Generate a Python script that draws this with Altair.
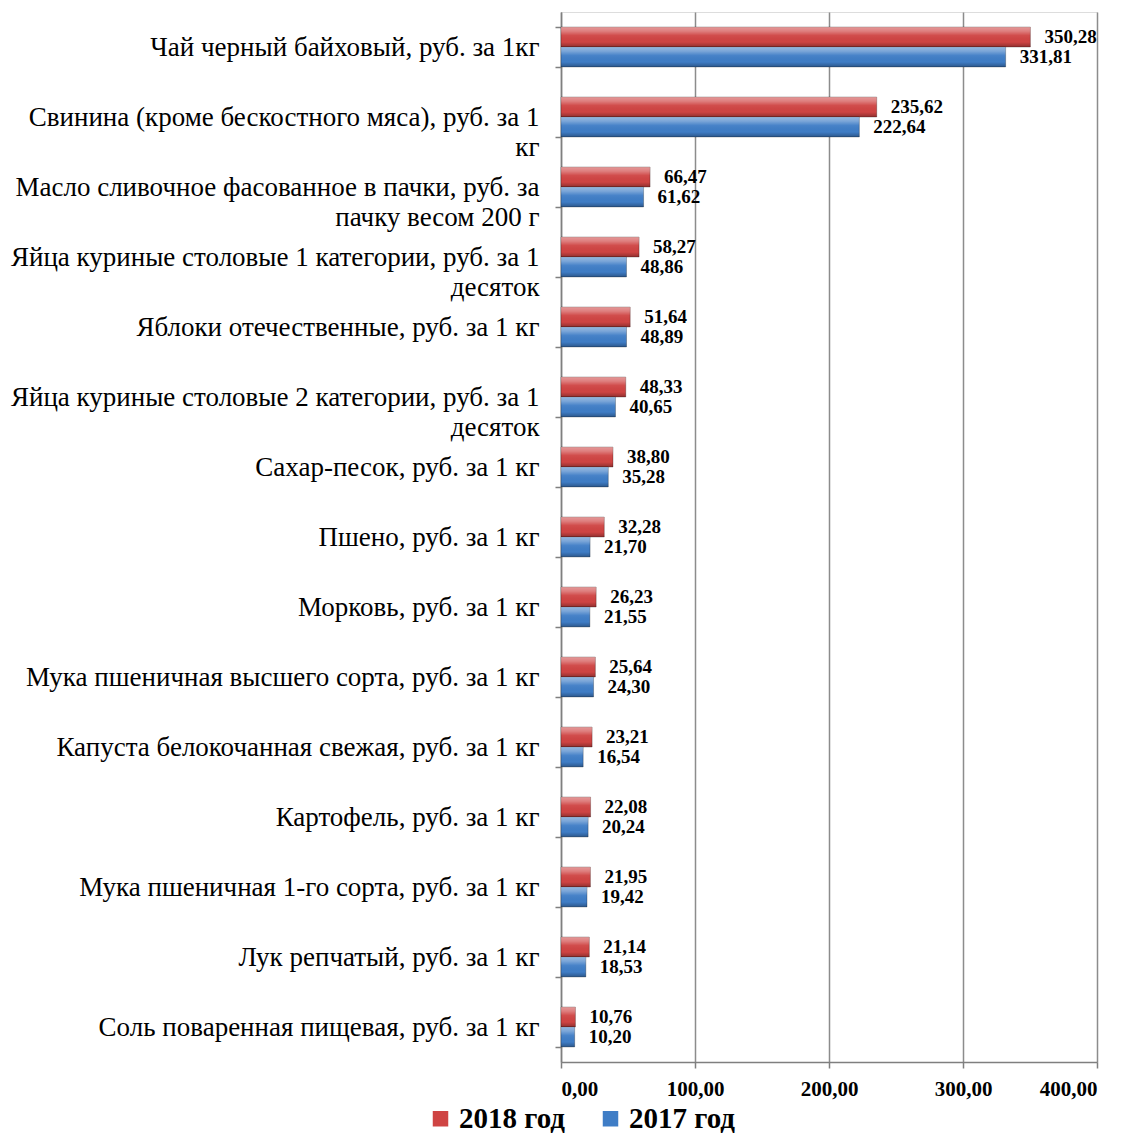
import altair as alt
import pandas as pd

categories = [
    "Чай черный байховый, руб. за 1кг",
    "Свинина (кроме бескостного мяса), руб. за 1\nкг",
    "Масло сливочное фасованное в пачки, руб. за\nпачку весом 200 г",
    "Яйца куриные столовые 1 категории, руб. за 1\nдесяток",
    "Яблоки отечественные, руб. за 1 кг",
    "Яйца куриные столовые 2 категории, руб. за 1\nдесяток",
    "Сахар-песок, руб. за 1 кг",
    "Пшено, руб. за 1 кг",
    "Морковь, руб. за 1 кг",
    "Мука пшеничная высшего сорта, руб. за 1 кг",
    "Капуста белокочанная свежая, руб. за 1 кг",
    "Картофель, руб. за 1 кг",
    "Мука пшеничная 1-го сорта, руб. за 1 кг",
    "Лук репчатый, руб. за 1 кг",
    "Соль поваренная пищевая, руб. за 1 кг",
]
values_2018 = [350.28, 235.62, 66.47, 58.27, 51.64, 48.33, 38.80, 32.28, 26.23, 25.64, 23.21, 22.08, 21.95, 21.14, 10.76]
values_2017 = [331.81, 222.64, 61.62, 48.86, 48.89, 40.65, 35.28, 21.70, 21.55, 24.30, 16.54, 20.24, 19.42, 18.53, 10.20]
series = ["2018 год", "2017 год"]
colors = ["#CF4443", "#3F7DC6"]
x_ticks = [0, 100, 200, 300, 400]

rows = []
for c, a, b in zip(categories, values_2018, values_2017):
    rows.append({"cat": c, "series": series[0], "value": a})
    rows.append({"cat": c, "series": series[1], "value": b})
df = pd.DataFrame(rows)

FONT = "Liberation Serif"

y_enc = alt.Y(
    "cat:N",
    sort=categories,
    title=None,
    scale=alt.Scale(paddingInner=0.43, paddingOuter=0.215),
    axis=alt.Axis(
        labelExpr="split(datum.label, '\\n')",
        labelFont=FONT,
        labelFontSize=27,
        labelColor="black",
        labelLineHeight=30,
        labelPadding=16,
        labelLimit=700,
        tickBand="extent",
        tickSize=6,
        tickColor="#7F7F7F",
        domainColor="#7F7F7F",
        domainWidth=1.5,
        tickWidth=1.5,
        grid=False,
    ),
)
x_enc = alt.X(
    "value:Q",
    title=None,
    scale=alt.Scale(domain=[0, 400], nice=False),
    axis=alt.Axis(
        values=x_ticks,
        labelExpr="replace(format(datum.value, '.2f'), '.', ',')",
        labelFont=FONT,
        labelFontSize=21,
        labelFontWeight="bold",
        labelColor="black",
        labelPadding=10,
        tickSize=6,
        tickColor="#7F7F7F",
        tickWidth=1.5,
        domainColor="#7F7F7F",
        domainWidth=1.5,
        grid=True,
        gridColor="#8C8C8C",
        gridWidth=1.5,
    ),
)
yoff = alt.YOffset("series:N", sort=series, scale=alt.Scale(paddingInner=0, paddingOuter=0))

base = alt.Chart(df).encode(y=y_enc, yOffset=yoff)

bars = base.mark_bar(stroke="#00000055", strokeWidth=0.8).encode(
    x=x_enc,
    color=alt.Color(
        "series:N",
        sort=series,
        scale=alt.Scale(domain=series, range=colors),
        legend=alt.Legend(
            title=None,
            orient="none",
            legendX=-135,
            legendY=1092,
            direction="horizontal",
            labelFont=FONT,
            labelFontSize=29,
            labelFontWeight="bold",
            labelColor="black",
            symbolType="square",
            symbolSize=240,
            symbolStrokeWidth=0,
            columnPadding=30,
            labelOffset=4,
        ),
    ),
)

shade = base.mark_bar(
    fill=alt.Gradient(
        gradient="linear",
        x1=0, x2=0, y1=0, y2=1,
        stops=[
            alt.GradientStop(color="rgba(255,255,255,0.45)", offset=0),
            alt.GradientStop(color="rgba(255,255,255,0.32)", offset=0.2),
            alt.GradientStop(color="rgba(255,255,255,0.05)", offset=0.42),
            alt.GradientStop(color="rgba(0,0,0,0)", offset=0.75),
            alt.GradientStop(color="rgba(0,0,0,0.3)", offset=1),
        ],
    )
).encode(x="value:Q")

labels = base.transform_calculate(
    txt="replace(format(datum.value, '.2f'), '.', ',')"
).mark_text(
    align="left", baseline="middle", dx=14, font=FONT, fontSize=19, fontWeight="bold", color="black"
).encode(x="value:Q", text="txt:N")

chart = (
    alt.layer(bars, shade, labels)
    .properties(width=536, height=1050)
    .configure_view(stroke=None)
    .configure(padding={"left": 2, "top": -10, "right": 5, "bottom": 0})
)

chart.save("out.html", embed_options={"renderer": "svg", "actions": False})
